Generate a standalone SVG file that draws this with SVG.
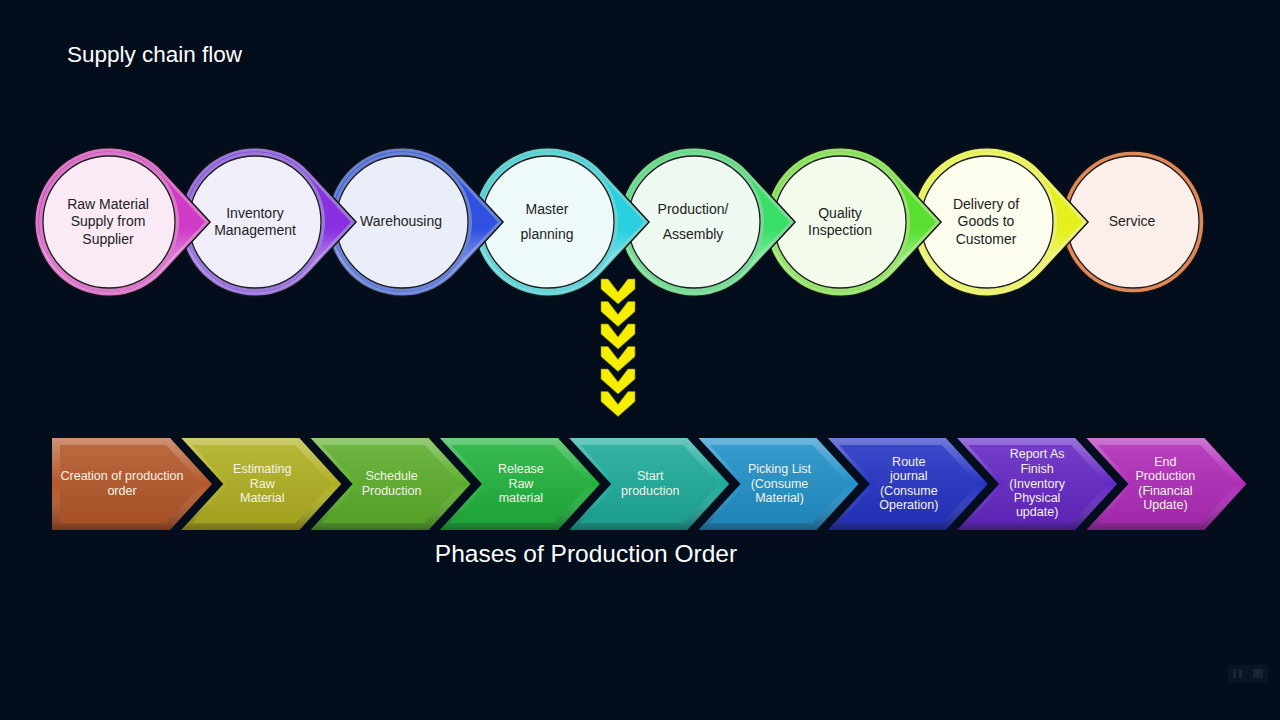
<svg xmlns="http://www.w3.org/2000/svg" xmlns:xlink="http://www.w3.org/1999/xlink" width="1280" height="720" viewBox="0 0 1280 720">
  <defs>
    <path id="drop" d="M98 222 L52.9 173.2 A72 72 0 1 0 52.9 270.8 Z"/>
    <linearGradient id="tipshade" x1="0" y1="0" x2="0" y2="1">
      <stop offset="0.55" stop-color="#ffffff" stop-opacity="0"/>
      <stop offset="0.75" stop-color="#ffffff" stop-opacity="0.35"/>
      <stop offset="1" stop-color="#ffffff" stop-opacity="0.15"/>
    </linearGradient>
    <linearGradient id="bevel" x1="0" y1="0" x2="0" y2="1">
      <stop offset="0" stop-color="#ffffff" stop-opacity="0.35"/>
      <stop offset="0.5" stop-color="#ffffff" stop-opacity="0"/>
      <stop offset="1" stop-color="#000000" stop-opacity="0.35"/>
    </linearGradient>
    <linearGradient id="face" x1="0" y1="0" x2="0" y2="1">
      <stop offset="0" stop-color="#ffffff" stop-opacity="0.10"/>
      <stop offset="1" stop-color="#000000" stop-opacity="0.08"/>
    </linearGradient>
    <polygon id="chev" points="0,438 118,438 160,484 118,530 0,530 42,484"/>
    <polygon id="chevIn" points="11,445 114,445 150,484 114,523 11,523 47,484"/>
    <polygon id="vee" points="0,0 7,0 17,13 27,0 34,0 34,10 17,25 0,10"/>
  </defs>
  <style>
    .ctext { font-family: "Liberation Sans", Arial, sans-serif; font-size: 14px; fill: #222222; text-anchor: middle; }
    .ptext { font-family: "Liberation Sans", Arial, sans-serif; font-size: 12.5px; fill: #f4f2e6; text-anchor: middle; }
    .title { font-family: "Liberation Sans", Arial, sans-serif; fill: #ffffff; }
    .outline { fill: none; stroke: #141414; stroke-width: 6; }
    .inner { stroke: #1e1e1e; stroke-width: 1.3; }
  </style>
  <rect width="1280" height="720" fill="#030d1c"/>

  <text class="title" x="67" y="62" font-size="22.5">Supply chain flow</text>

  <!-- supply chain nodes, drawn right to left so tips overlay -->
  <g id="node-service">
    <circle cx="1133" cy="222" r="71" fill="#e08858" stroke="#141414" stroke-width="1.5"/>
    <circle class="inner" cx="1133" cy="222" r="66" fill="#fcefe9"/>
    <text class="ctext" x="1132" y="226">Service</text>
  </g>
  <g id="node-delivery" transform="translate(987,0)">
    <use href="#drop" class="outline"/>
    <use href="#drop" fill="#e6ef1e" stroke="#eaf272" stroke-width="3"/>
    <use href="#drop" fill="url(#tipshade)"/>
    <circle cx="0" cy="222" r="70" fill="#eaf272"/>
    <circle class="inner" cx="0" cy="222" r="66" fill="#fdfdee"/>
    <text class="ctext" x="-1" y="209">Delivery of</text>
    <text class="ctext" x="-1" y="226">Goods to</text>
    <text class="ctext" x="-1" y="244">Customer</text>
  </g>
  <g id="node-quality" transform="translate(840,0)">
    <use href="#drop" class="outline"/>
    <use href="#drop" fill="#58e030" stroke="#9ae270" stroke-width="3"/>
    <use href="#drop" fill="url(#tipshade)"/>
    <circle cx="0" cy="222" r="70" fill="#9ae270"/>
    <circle class="inner" cx="0" cy="222" r="66" fill="#f3fbed"/>
    <text class="ctext" x="0" y="218">Quality</text>
    <text class="ctext" x="0" y="235">Inspection</text>
  </g>
  <g id="node-production" transform="translate(694,0)">
    <use href="#drop" class="outline"/>
    <use href="#drop" fill="#38e068" stroke="#7ad898" stroke-width="3"/>
    <use href="#drop" fill="url(#tipshade)"/>
    <circle cx="0" cy="222" r="70" fill="#7ad898"/>
    <circle class="inner" cx="0" cy="222" r="66" fill="#eefaf1"/>
    <text class="ctext" x="-1" y="214">Production/</text>
    <text class="ctext" x="-1" y="239">Assembly</text>
  </g>
  <g id="node-master" transform="translate(548,0)">
    <use href="#drop" class="outline"/>
    <use href="#drop" fill="#28d0e0" stroke="#6ad2d2" stroke-width="3"/>
    <use href="#drop" fill="url(#tipshade)"/>
    <circle cx="0" cy="222" r="70" fill="#6ad2d2"/>
    <circle class="inner" cx="0" cy="222" r="66" fill="#eefafa"/>
    <text class="ctext" x="-1" y="214">Master</text>
    <text class="ctext" x="-1" y="239">planning</text>
  </g>
  <g id="node-warehousing" transform="translate(402,0)">
    <use href="#drop" class="outline"/>
    <use href="#drop" fill="#2f50e0" stroke="#6a82d2" stroke-width="3"/>
    <use href="#drop" fill="url(#tipshade)"/>
    <circle cx="0" cy="222" r="70" fill="#6a82d2"/>
    <circle class="inner" cx="0" cy="222" r="66" fill="#e9eef9"/>
    <text class="ctext" x="-1" y="226">Warehousing</text>
  </g>
  <g id="node-inventory" transform="translate(255,0)">
    <use href="#drop" class="outline"/>
    <use href="#drop" fill="#8a30e0" stroke="#9a7ad8" stroke-width="3"/>
    <use href="#drop" fill="url(#tipshade)"/>
    <circle cx="0" cy="222" r="70" fill="#9a7ad8"/>
    <circle class="inner" cx="0" cy="222" r="66" fill="#f0eef9"/>
    <text class="ctext" x="0" y="218">Inventory</text>
    <text class="ctext" x="0" y="235">Management</text>
  </g>
  <g id="node-raw" transform="translate(109,0)">
    <use href="#drop" class="outline"/>
    <use href="#drop" fill="#d03cc8" stroke="#d87ac8" stroke-width="3"/>
    <use href="#drop" fill="url(#tipshade)"/>
    <circle cx="0" cy="222" r="70" fill="#d87ac8"/>
    <circle class="inner" cx="0" cy="222" r="66" fill="#f9eaf5"/>
    <text class="ctext" x="-1" y="209">Raw Material</text>
    <text class="ctext" x="-1" y="226">Supply from</text>
    <text class="ctext" x="-1" y="244">Supplier</text>
  </g>

  <!-- connector: yellow down chevrons -->
  <g id="connectors" fill="#f6ee00" stroke="#8a8400" stroke-width="0.6">
    <use href="#vee" x="601" y="279"/>
    <use href="#vee" x="601" y="301.5"/>
    <use href="#vee" x="601" y="324"/>
    <use href="#vee" x="601" y="346.5"/>
    <use href="#vee" x="601" y="369"/>
    <use href="#vee" x="601" y="391.5"/>
  </g>

  <!-- phases of production order -->
  <g id="phase-1">
    <polygon points="52,438 170,438 212,484 170,530 52,530" fill="#b4582a"/>
    <polygon points="52,438 170,438 212,484 170,530 52,530" fill="url(#bevel)"/>
    <polygon points="60,445 166,445 202,484 166,523 60,523" fill="#b4582a"/>
    <polygon points="60,445 166,445 202,484 166,523 60,523" fill="url(#face)"/>
    <text class="ptext" x="122" y="480">Creation of production</text>
    <text class="ptext" x="122" y="495">order</text>
  </g>
  <g id="phase-2" transform="translate(181.3,0)">
    <use href="#chev" fill="#b0b022"/><use href="#chev" fill="url(#bevel)"/>
    <use href="#chevIn" fill="#b0b022"/><use href="#chevIn" fill="url(#face)"/>
    <text class="ptext" x="81" y="473">Estimating</text>
    <text class="ptext" x="81" y="488">Raw</text>
    <text class="ptext" x="81" y="502">Material</text>
  </g>
  <g id="phase-3" transform="translate(310.6,0)">
    <use href="#chev" fill="#5cae2c"/><use href="#chev" fill="url(#bevel)"/>
    <use href="#chevIn" fill="#5cae2c"/><use href="#chevIn" fill="url(#face)"/>
    <text class="ptext" x="81" y="480">Schedule</text>
    <text class="ptext" x="81" y="495">Production</text>
  </g>
  <g id="phase-4" transform="translate(439.9,0)">
    <use href="#chev" fill="#22b23e"/><use href="#chev" fill="url(#bevel)"/>
    <use href="#chevIn" fill="#22b23e"/><use href="#chevIn" fill="url(#face)"/>
    <text class="ptext" x="81" y="473">Release</text>
    <text class="ptext" x="81" y="488">Raw</text>
    <text class="ptext" x="81" y="502">material</text>
  </g>
  <g id="phase-5" transform="translate(569.2,0)">
    <use href="#chev" fill="#1eab9a"/><use href="#chev" fill="url(#bevel)"/>
    <use href="#chevIn" fill="#1eab9a"/><use href="#chevIn" fill="url(#face)"/>
    <text class="ptext" x="81" y="480">Start</text>
    <text class="ptext" x="81" y="495">production</text>
  </g>
  <g id="phase-6" transform="translate(698.5,0)">
    <use href="#chev" fill="#2290c8"/><use href="#chev" fill="url(#bevel)"/>
    <use href="#chevIn" fill="#2290c8"/><use href="#chevIn" fill="url(#face)"/>
    <text class="ptext" x="81" y="473">Picking List</text>
    <text class="ptext" x="81" y="488">(Consume</text>
    <text class="ptext" x="81" y="502">Material)</text>
  </g>
  <g id="phase-7" transform="translate(827.8,0)">
    <use href="#chev" fill="#2634c4"/><use href="#chev" fill="url(#bevel)"/>
    <use href="#chevIn" fill="#2634c4"/><use href="#chevIn" fill="url(#face)"/>
    <text class="ptext" x="81" y="466">Route</text>
    <text class="ptext" x="81" y="480">journal</text>
    <text class="ptext" x="81" y="495">(Consume</text>
    <text class="ptext" x="81" y="509">Operation)</text>
  </g>
  <g id="phase-8" transform="translate(957.1,0)">
    <use href="#chev" fill="#6428c4"/><use href="#chev" fill="url(#bevel)"/>
    <use href="#chevIn" fill="#6428c4"/><use href="#chevIn" fill="url(#face)"/>
    <text class="ptext" x="80" y="458">Report As</text>
    <text class="ptext" x="80" y="473">Finish</text>
    <text class="ptext" x="80" y="488">(Inventory</text>
    <text class="ptext" x="80" y="502">Physical</text>
    <text class="ptext" x="80" y="516">update)</text>
  </g>
  <g id="phase-9" transform="translate(1086.4,0)">
    <use href="#chev" fill="#b02cb8"/><use href="#chev" fill="url(#bevel)"/>
    <use href="#chevIn" fill="#b02cb8"/><use href="#chevIn" fill="url(#face)"/>
    <text class="ptext" x="79" y="466">End</text>
    <text class="ptext" x="79" y="480">Production</text>
    <text class="ptext" x="79" y="495">(Financial</text>
    <text class="ptext" x="79" y="509">Update)</text>
  </g>

  <text class="title" x="586" y="562" font-size="24.5" text-anchor="middle">Phases of Production Order</text>

  <!-- faint player controls -->
  <g id="player-controls" fill="#1a2433">
    <rect x="1228" y="665" width="40" height="17" rx="2" fill="#0a1524"/>
    <rect x="1233" y="669" width="3" height="9"/>
    <rect x="1239" y="669" width="3" height="9"/>
    <rect x="1253" y="669" width="10" height="9"/>
  </g>
</svg>
